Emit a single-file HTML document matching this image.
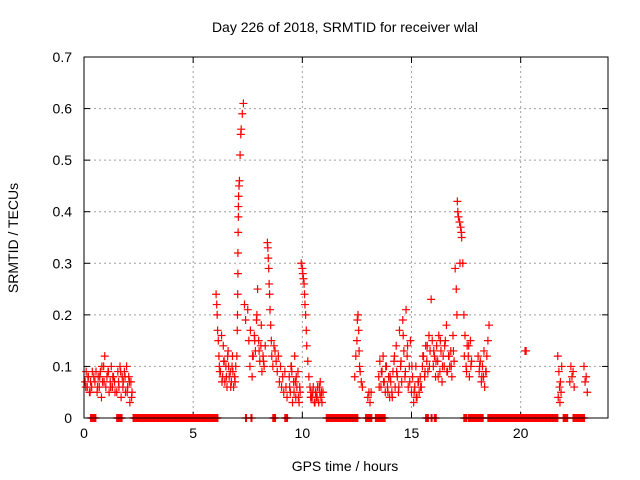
<!DOCTYPE html>
<html><head><meta charset="utf-8"><style>
html,body{margin:0;padding:0;background:#fff;}
svg{display:block;font-family:"Liberation Sans",sans-serif;}
</style></head><body>
<svg id="chart" width="640" height="480" viewBox="0 0 640 480">
<text x="345" y="32" text-anchor="middle" font-size="14">Day 226 of 2018, SRMTID for receiver wlal</text>
<text x="345" y="471" text-anchor="middle" font-size="14">GPS time / hours</text>
<text transform="translate(18,238) rotate(-90)" text-anchor="middle" font-size="14">SRMTID / TECUs</text>
<g id="grid"></g><g id="ticks"></g><g id="marks"></g>
<rect x="84" y="57" width="524" height="361" fill="none" stroke="#000" stroke-width="1"/>
</svg>
<script>
const xTicks=[0,5,10,15,20];
const yTicks=[0,0.1,0.2,0.3,0.4,0.5,0.6,0.7];
const yTickLabels=["0","0.1","0.2","0.3","0.4","0.5","0.6","0.7"];
const zeroRanges=[[0.3,0.55],[1.5,1.75],[2.25,6.15],[7.4,7.45],[7.65,7.7],[8.65,8.8],[9.2,9.35],[11.1,12.55],[12.9,13.2],[13.35,13.8],[15.65,15.8],[15.9,15.95],[16.05,16.15],[17.4,17.55],[17.6,18.3],[18.5,21.7],[21.95,22.15],[22.4,22.95]];
const times=[0.05,0.1,0.15,0.2,0.25,0.3,0.35,0.45,0.5,0.55,0.6,0.65,0.7,0.75,0.8,0.85,0.9,0.95,1.0,1.05,1.1,1.15,1.2,1.25,1.3,1.35,1.4,1.5,1.55,1.6,1.65,1.7,1.75,1.8,1.85,1.9,1.95,2.0,2.05,2.1,2.15,2.2,
6.05,6.08,6.1,6.12,6.15,6.18,6.2,6.25,6.3,6.35,6.4,6.45,6.5,6.55,6.6,6.65,6.7,6.75,6.8,6.85,6.9,6.95,
7.0,7.02,7.03,7.04,7.05,7.05,7.06,7.07,7.07,7.08,7.1,7.12,7.15,7.18,7.2,7.25,7.3,7.35,7.4,
7.5,7.55,7.6,7.7,7.75,7.8,7.85,7.9,7.95,8.0,8.05,8.1,8.15,8.2,8.25,8.3,
8.4,8.42,8.44,8.46,8.48,8.5,8.52,8.55,8.58,8.6,8.65,8.7,8.75,8.8,8.85,8.9,8.95,9.0,9.05,9.1,9.15,9.2,9.25,9.3,
9.4,9.45,9.5,9.55,9.6,9.65,9.7,9.75,9.8,9.85,9.9,
9.95,10.0,10.02,10.05,10.08,10.1,10.12,10.15,10.18,10.2,10.25,10.3,10.35,10.4,10.45,10.5,10.55,10.6,10.65,10.7,10.75,10.8,10.85,10.9,10.95,
12.4,12.45,12.5,12.52,12.55,12.58,12.6,12.62,12.65,12.7,12.75,
13.0,13.05,13.1,13.15,
13.5,13.55,13.6,13.65,13.7,13.75,13.8,13.85,13.9,13.95,14.0,14.05,14.1,14.15,14.2,14.25,14.3,14.35,14.4,14.45,14.5,14.55,14.6,14.65,14.7,14.75,14.8,14.85,14.9,14.95,15.0,15.05,15.1,15.15,15.2,15.25,15.3,15.35,15.4,15.45,
15.5,15.55,15.6,15.65,15.7,15.75,15.8,15.85,15.9,15.95,16.0,16.05,16.1,16.15,16.2,16.25,16.3,16.35,16.4,16.45,16.5,16.55,16.6,16.65,16.7,16.75,16.8,16.85,16.9,16.95,
17.0,17.05,17.08,17.1,17.12,17.15,17.2,17.22,17.25,17.28,17.3,17.35,17.4,17.45,17.5,17.55,17.6,17.65,17.7,17.75,
18.05,18.1,18.15,18.2,18.25,18.3,18.35,18.4,18.45,18.5,18.55,
20.2,20.25,
21.7,21.72,21.75,21.78,21.8,21.82,21.85,21.88,
22.25,22.3,22.35,22.4,22.45,
22.9,22.95,23.0,23.05,
0.08,0.18,0.28,0.38,0.62,0.72,0.82,0.92,1.12,1.22,1.32,1.42,1.58,1.68,1.78,1.88,1.98,2.08,2.18,
6.22,6.32,6.42,6.52,6.62,6.72,6.82,6.92,6.38,6.58,6.78,
7.62,7.72,7.82,7.92,8.02,8.12,8.22,
9.42,9.52,9.62,9.72,9.82,9.48,9.68,9.88,10.38,10.48,10.58,10.68,10.78,10.88,10.42,10.62,10.82,
13.52,13.62,13.72,13.82,13.92,14.02,14.12,14.22,14.32,14.42,14.52,14.62,14.72,14.82,14.92,15.02,15.12,15.22,15.32,15.42,
15.52,15.62,15.72,15.82,16.02,16.12,16.22,16.32,16.42,16.52,16.62,16.72,16.82,16.92,
17.42,17.52,17.62,17.72,18.12,18.22,18.32,18.42];
const values=[0.07,0.09,0.06,0.08,0.05,0.07,0.06,0.08,0.07,0.09,0.05,0.08,0.06,0.09,0.04,0.07,0.1,0.12,0.06,0.08,0.09,0.05,0.07,0.1,0.06,0.08,0.07,0.05,0.09,0.06,0.1,0.04,0.08,0.07,0.09,0.05,0.1,0.06,0.08,0.03,0.07,0.05,
0.24,0.22,0.2,0.17,0.15,0.12,0.1,0.09,0.16,0.08,0.11,0.07,0.1,0.06,0.13,0.08,0.09,0.07,0.12,0.06,0.08,0.1,
0.12,0.17,0.2,0.24,0.28,0.32,0.36,0.39,0.41,0.43,0.45,0.46,0.51,0.55,0.56,0.59,0.61,0.22,0.19,
0.21,0.15,0.1,0.08,0.12,0.16,0.13,0.19,0.25,0.15,0.11,0.14,0.09,0.12,0.1,0.14,
0.34,0.33,0.31,0.29,0.26,0.24,0.21,0.18,0.15,0.12,0.1,0.14,0.13,0.11,0.09,0.12,0.07,0.1,0.06,0.08,0.05,0.09,0.06,0.04,
0.08,0.05,0.1,0.03,0.07,0.12,0.04,0.06,0.09,0.03,0.05,
0.3,0.29,0.28,0.27,0.26,0.24,0.22,0.2,0.17,0.14,0.11,0.08,0.06,0.05,0.04,0.06,0.03,0.05,0.04,0.06,0.03,0.05,0.04,0.03,0.05,
0.08,0.12,0.15,0.19,0.2,0.17,0.13,0.1,0.09,0.07,0.06,
0.04,0.05,0.03,0.05,
0.08,0.11,0.06,0.09,0.12,0.07,0.05,0.1,0.06,0.08,0.04,0.07,0.05,0.09,0.11,0.06,0.14,0.08,0.05,0.17,0.1,0.07,0.19,0.13,0.08,0.21,0.12,0.06,0.1,0.15,0.05,0.08,0.03,0.06,0.1,0.04,0.07,0.05,0.08,0.06,
0.1,0.12,0.08,0.14,0.11,0.09,0.16,0.13,0.23,0.15,0.1,0.12,0.08,0.14,0.11,0.16,0.09,0.13,0.07,0.12,0.1,0.15,0.18,0.09,0.12,0.1,0.13,0.08,0.16,0.11,
0.29,0.25,0.2,0.42,0.4,0.39,0.38,0.3,0.37,0.36,0.35,0.3,0.2,0.16,0.1,0.14,0.12,0.08,0.15,0.11,
0.12,0.09,0.11,0.07,0.1,0.08,0.06,0.09,0.12,0.15,0.18,
0.13,0.13,
0.12,0.04,0.09,0.06,0.03,0.07,0.05,0.1,
0.07,0.1,0.08,0.09,0.06,
0.1,0.07,0.08,0.05,
0.06,0.08,0.05,0.09,0.06,0.08,0.1,0.07,0.09,0.06,0.08,0.05,0.07,0.09,0.06,0.08,0.05,0.07,0.04,
0.09,0.07,0.11,0.08,0.1,0.06,0.09,0.07,0.14,0.12,0.1,
0.17,0.12,0.15,0.2,0.13,0.18,0.11,
0.06,0.09,0.05,0.08,0.04,0.1,0.07,0.06,0.04,0.05,0.03,0.04,0.06,0.05,0.04,0.05,0.07,
0.06,0.09,0.07,0.1,0.05,0.08,0.04,0.12,0.09,0.06,0.11,0.16,0.09,0.14,0.07,0.1,0.05,0.04,0.07,0.06,
0.12,0.09,0.14,0.1,0.13,0.11,0.08,0.15,0.1,0.14,0.09,0.12,0.1,0.13,
0.12,0.09,0.14,0.1,0.1,0.08,0.13,0.09];
const NS="http://www.w3.org/2000/svg";
const X0=84,X1=608,Y0=418,Y1=57,XMAX=24,YMAX=0.7;
function sx(t){return X0+(X1-X0)*t/XMAX;}
function sy(v){return Y0-(Y0-Y1)*v/YMAX;}
const grid=document.getElementById('grid'),ticks=document.getElementById('ticks'),marks=document.getElementById('marks');
function mk(tag,attrs,parent){const e=document.createElementNS(NS,tag);for(const k in attrs)e.setAttribute(k,attrs[k]);parent.appendChild(e);return e;}
xTicks.forEach(t=>{
  const x=sx(t);
  if(t>0){const g=mk('line',{x1:x,x2:x,y1:Y0,y2:Y1,stroke:'#a0a0a0','stroke-dasharray':'2,3'},grid);
  
  }
  mk('line',{x1:x,x2:x,y1:Y0,y2:Y0-6,stroke:'#000'},ticks);
  mk('line',{x1:x,x2:x,y1:Y1,y2:Y1+6,stroke:'#000'},ticks);
  const l=mk('text',{x:x,y:Y0+20,'text-anchor':'middle','font-size':'14'},ticks);
  l.textContent=String(t);
  
  
});
yTicks.forEach((v,i)=>{
  const y=sy(v);
  if(v>0&&v<YMAX){const g=mk('line',{x1:X0,x2:X1,y1:y,y2:y,stroke:'#a0a0a0','stroke-dasharray':'2,3'},grid);
  
  }
  mk('line',{x1:X0,x2:X0+6,y1:y,y2:y,stroke:'#000'},ticks);
  mk('line',{x1:X1,x2:X1-6,y1:y,y2:y,stroke:'#000'},ticks);
  const l=mk('text',{x:X0-12,y:y+5,'text-anchor':'end','font-size':'14'},ticks);
  l.textContent=yTickLabels[i];
  
  
});
function plus(t,v){
  const x=sx(t),y=sy(v);
  const p=mk('path',{d:`M${x-4},${y}H${x+4}M${x},${y-4}V${y+4}`,stroke:'#f00','stroke-width':'1.2',fill:'none'},marks);
  
  
}
zeroRanges.forEach(r=>{for(let t=r[0];t<=r[1]+1e-9;t+=0.04)plus(t,0);});
times.forEach((t,i)=>plus(t,values[i]));
</script>
</body></html>
